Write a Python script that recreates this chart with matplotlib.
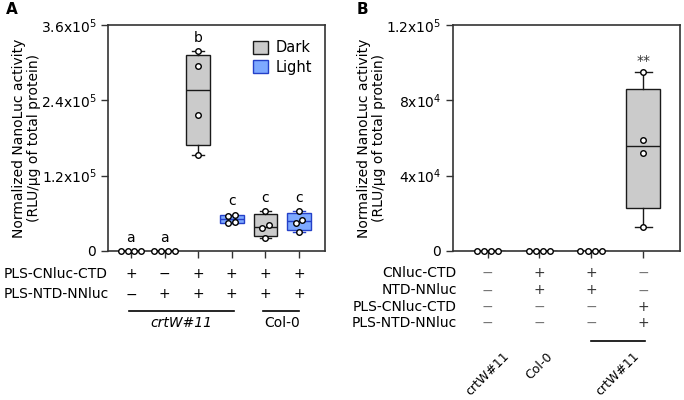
import numpy as np
import matplotlib
matplotlib.use("Agg")
import matplotlib.pyplot as plt
from matplotlib.patches import Patch
from matplotlib.transforms import blended_transform_factory

plt.rcParams["font.family"] = "DejaVu Sans"
plt.rcParams["font.size"] = 10

# ---- data, panel A ----
a_values = [
    [0, 0, 0, 0],
    [0, 0, 0, 0],
    [1.53e5, 2.17e5, 2.95e5, 3.19e5],
    [4.5e4, 4.65e4, 5.6e4, 5.8e4],
    [2.0e4, 3.6e4, 4.1e4, 6.4e4],
    [3.0e4, 4.5e4, 4.9e4, 6.4e4],
]
a_condition = ["Dark", "Dark", "Dark", "Light", "Dark", "Light"]
a_letters = ["a", "a", "b", "c", "c", "c"]
a_rows = ["PLS-CNluc-CTD", "PLS-NTD-NNluc"]
a_signs = [["+", "−", "+", "+", "+", "+"],
           ["−", "+", "+", "+", "+", "+"]]
a_yticks = [0, 1.2e5, 2.4e5, 3.6e5]
a_yticklabels = ["0", "1.2x10$^5$", "2.4x10$^5$", "3.6x10$^5$"]

# ---- data, panel B ----
b_values = [
    [0, 0, 0, 0],
    [0, 0, 0, 0],
    [0, 0, 0, 0],
    [1.27e4, 5.22e4, 5.9e4, 9.5e4],
]
b_rows = ["CNluc-CTD", "NTD-NNluc", "PLS-CNluc-CTD", "PLS-NTD-NNluc"]
b_signs = [["−", "+", "+", "−"],
           ["−", "+", "+", "−"],
           ["−", "−", "−", "+"],
           ["−", "−", "−", "+"]]
b_yticks = [0, 4e4, 8e4, 1.2e5]
b_yticklabels = ["0", "4x10$^4$", "8x10$^4$", "1.2x10$^5$"]
b_genotypes = ["crtW#11", "Col-0", "crtW#11"]

ylabel = "Normalized NanoLuc activity\n(RLU/µg of total protein)"

FILL = {"Dark": "#cbcbcb", "Light": "#7ea9ff"}
EDGE = {"Dark": "#1a1a1a", "Light": "#2440c8"}


def box_stats(vals):
    q1, med, q3 = np.percentile(vals, [25, 50, 75], method="weibull")
    return {"med": med, "q1": q1, "q3": q3,
            "whislo": min(vals), "whishi": max(vals), "fliers": []}


def jitter(vals, ytop, d):
    # spread points that sit at (nearly) the same height
    vals = np.asarray(vals, dtype=float)
    if np.ptp(vals) < 1e-9:
        return np.array([-3, -1, 1, 3])[:len(vals)] * d
    off = np.zeros(len(vals))
    order = np.argsort(vals)
    for k in range(1, len(order)):
        i, j = order[k], order[k - 1]
        if abs(vals[i] - vals[j]) < 0.02 * ytop:
            if off[j] == 0:
                off[j] = -d
            off[i] = d if off[j] < 0 else -d
    return off


def draw_boxes(ax, values, conds, width, ytop, d):
    for i, vals in enumerate(values):
        c = conds[i]
        ax.bxp([box_stats(vals)], positions=[i], widths=width,
               patch_artist=True, showfliers=False, capwidths=width * 0.5,
               boxprops=dict(facecolor=FILL[c], edgecolor=EDGE[c], lw=1.0),
               medianprops=dict(color=EDGE[c], lw=1.0),
               whiskerprops=dict(color=EDGE[c], lw=1.0),
               capprops=dict(color=EDGE[c], lw=1.0), zorder=2)
        ax.plot(i + jitter(vals, ytop, d), vals, "o", ms=4, mfc="white",
                mec="black", mew=1.0, zorder=4, clip_on=False)


def style_axes(ax, yticks, ylabels, n):
    ax.set_ylim(0, yticks[-1])
    ax.set_yticks(yticks)
    ax.set_yticklabels(ylabels)
    ax.set_xticks(range(n))
    ax.set_xticklabels([""] * n)
    ax.tick_params(direction="out", length=5, width=1, color="#333333")
    for s in ax.spines.values():
        s.set_linewidth(1.2)
        s.set_color("#333333")
    ax.set_ylabel(ylabel, fontsize=10, labelpad=0, linespacing=1.1)


fig = plt.figure(figsize=(6.84, 4.0), dpi=100)

# ---------------- panel A ----------------
axA = fig.add_axes([0.158, 0.3725, 0.317, 0.565])
draw_boxes(axA, a_values, a_condition, 0.7, a_yticks[-1], 0.1)
axA.set_xlim(-0.68, 5.77)
style_axes(axA, a_yticks, a_yticklabels, len(a_values))
for i, vals in enumerate(a_values):
    axA.annotate(a_letters[i], (i, max(vals)), xytext=(0, 9.5),
                 textcoords="offset points", ha="center", va="center",
                 fontsize=10)
axA.legend(handles=[Patch(facecolor=FILL[k], edgecolor=EDGE[k], label=k)
                    for k in ["Dark", "Light"]],
           loc="upper right", bbox_to_anchor=(1.0, 0.99), frameon=False,
           fontsize=10.5, handlelength=1.0, handleheight=1.0,
           handletextpad=0.5, labelspacing=0.3)

trA = blended_transform_factory(axA.transData, fig.transFigure)
a_row_y = [0.315, 0.264]
for r, lab in enumerate(a_rows):
    fig.text(0.006, a_row_y[r], lab, ha="left", va="center", fontsize=10)
    for i, s in enumerate(a_signs[r]):
        axA.text(i, a_row_y[r], s, transform=trA, ha="center", va="center",
                 fontsize=10)
axA.plot([-0.07, 3.07], [0.2225, 0.2225], transform=trA, color="black",
         lw=1.2, clip_on=False)
axA.plot([3.93, 5.0], [0.2225, 0.2225], transform=trA, color="black",
         lw=1.2, clip_on=False)
axA.text(1.5, 0.193, "crtW#11", transform=trA, ha="center", va="center",
         style="italic", fontsize=10)
axA.text(4.5, 0.193, "Col-0", transform=trA, ha="center", va="center",
         fontsize=10)
fig.text(0.008, 0.975, "A", fontweight="bold", fontsize=11, va="center")

# ---------------- panel B ----------------
axB = fig.add_axes([0.662, 0.3725, 0.332, 0.565])
draw_boxes(axB, b_values, ["Dark"] * len(b_values), 0.66, b_yticks[-1], 0.07)
axB.set_xlim(-0.67, 3.71)
style_axes(axB, b_yticks, b_yticklabels, len(b_values))
axB.annotate("**", (3, max(b_values[3])), xytext=(0, 8),
             textcoords="offset points", ha="center", va="center",
             fontsize=10, color="#333333")

trB = blended_transform_factory(axB.transData, fig.transFigure)
b_row_y = [0.317, 0.274, 0.233, 0.192]
for r, lab in enumerate(b_rows):
    fig.text(0.668, b_row_y[r], lab, ha="right", va="center", fontsize=10)
    for i, s in enumerate(b_signs[r]):
        axB.text(i, b_row_y[r], s, transform=trB, ha="center", va="center",
                 fontsize=10, color="#333333" if s == "+" else "#777777")
axB.plot([2.0, 3.03], [0.1475, 0.1475], transform=trB, color="black",
         lw=1.2, clip_on=False)
b_label_x = [0, 1, 2.5]
for x, g in zip(b_label_x, b_genotypes):
    axB.text(x, 0.125, g, transform=trB, ha="center", va="top", rotation=45,
             fontsize=9)
fig.text(0.522, 0.975, "B", fontweight="bold", fontsize=11, va="center")

fig.savefig("out.png", dpi=100)
